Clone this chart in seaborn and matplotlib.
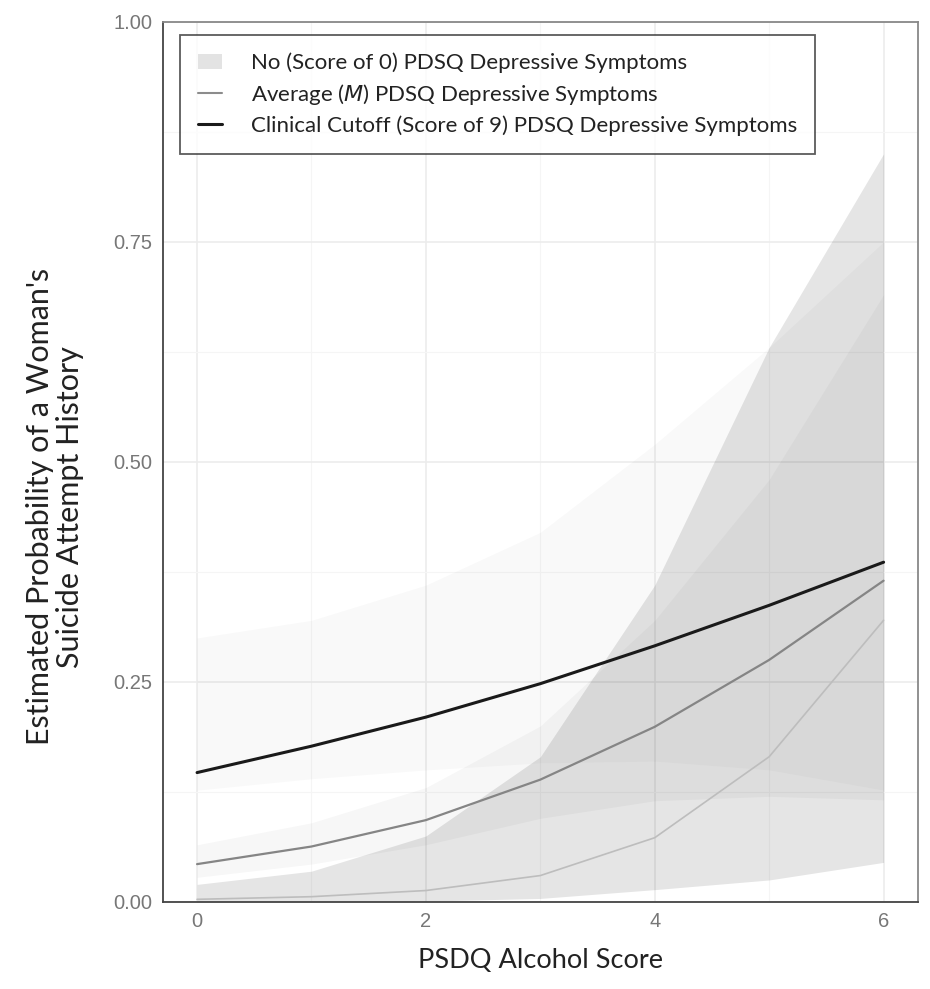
"""Predicted probability of suicide attempt history by PSDQ alcohol score."""

import matplotlib
matplotlib.use("Agg")
import matplotlib.pyplot as plt
import seaborn as sns
import pandas as pd
from matplotlib.lines import Line2D
from matplotlib.patches import Patch


# Data
alcohol_score = [0, 1, 2, 3, 4, 5, 6]

no_dep = [0.003, 0.006, 0.013, 0.030, 0.073, 0.165, 0.320]
no_dep_lo = [0.000, 0.000, 0.001, 0.004, 0.014, 0.025, 0.045]
no_dep_hi = [0.020, 0.035, 0.075, 0.165, 0.360, 0.630, 0.850]

avg_dep = [0.043, 0.063, 0.093, 0.139, 0.199, 0.275, 0.365]
avg_dep_lo = [0.028, 0.043, 0.065, 0.095, 0.115, 0.120, 0.116]
avg_dep_hi = [0.065, 0.090, 0.130, 0.200, 0.320, 0.480, 0.690]

clin_dep = [0.147, 0.177, 0.210, 0.248, 0.291, 0.337, 0.386]
clin_dep_lo = [0.127, 0.140, 0.150, 0.158, 0.160, 0.150, 0.127]
clin_dep_hi = [0.300, 0.320, 0.360, 0.420, 0.520, 0.630, 0.750]

group_labels = [
    "No (Score of 0) PDSQ Depressive Symptoms",
    "Average ($\\mathit{M}$) PDSQ Depressive Symptoms",
    "Clinical Cutoff (Score of 9) PDSQ Depressive Symptoms",
]

y_ticks = [0.0, 0.25, 0.5, 0.75, 1.0]
y_tick_labels = ["0.00", "0.25", "0.50", "0.75", "1.00"]
x_ticks = [0, 2, 4, 6]

df = pd.DataFrame({
    "score": alcohol_score * 3,
    "prob": no_dep + avg_dep + clin_dep,
    "group": [g for g in group_labels for _ in alcohol_score],
})

sns.set_style("white")
plt.rcParams["font.family"] = ["Liberation Sans", "DejaVu Sans"]
label_font = ["Lato", "DejaVu Sans"]

fig = plt.figure(figsize=(9.3, 9.89), dpi=100)
ax = fig.add_axes([0.175, 0.088, 0.812, 0.89])

# confidence ribbons (very faint, like ggplot alpha fills)
ax.fill_between(alcohol_score, clin_dep_lo, clin_dep_hi, color="black", alpha=0.025, lw=0, zorder=1)
ax.fill_between(alcohol_score, avg_dep_lo, avg_dep_hi, color="black", alpha=0.03, lw=0, zorder=1)
ax.fill_between(alcohol_score, no_dep_lo, no_dep_hi, color="black", alpha=0.1, lw=0, zorder=1)

palette = {group_labels[0]: "#bdbdbd", group_labels[1]: "#858585", group_labels[2]: "#1a1a1a"}
sizes = {group_labels[0]: 1.2, group_labels[1]: 1.6, group_labels[2]: 2.2}
sns.lineplot(data=df, x="score", y="prob", hue="group", size="group",
             palette=palette, sizes=sizes, legend=False, ax=ax, zorder=3)

ax.set_xlim(-0.3, 6.3)
ax.set_ylim(0, 1.0)
ax.set_xticks(x_ticks)
ax.set_xticks([1, 3, 5], minor=True)
ax.set_yticks(y_ticks)
ax.set_yticklabels(y_tick_labels)
ax.set_yticks([0.125, 0.375, 0.625, 0.875], minor=True)
ax.grid(True, which="major", color="#ececec", lw=1.2, zorder=0)
ax.grid(True, which="minor", color="#f5f5f5", lw=0.8, zorder=0)
ax.set_axisbelow(True)

ax.tick_params(axis="both", which="major", length=4, width=1, color="#555555",
               labelcolor="#777777", labelsize=14.5, direction="out")
ax.tick_params(axis="both", which="minor", length=0)
for side, spine in ax.spines.items():
    spine.set_color("#444444" if side in ("left", "bottom") else "#888888")
    spine.set_linewidth(1.3)

ax.set_xlabel("PSDQ Alcohol Score", fontsize=19.5, family=label_font,
              color="#222222", labelpad=12)
ax.set_ylabel("Estimated Probability of a Woman's\nSuicide Attempt History", fontsize=22,
              family=label_font, color="#222222", linespacing=1.1, ha="center", va="center")
ax.yaxis.set_label_coords(-0.143, 0.449)

handles = [
    Patch(facecolor="#e3e3e3", edgecolor="none"),
    Line2D([0], [0], color="#8c8c8c", lw=1.5),
    Line2D([0], [0], color="#1a1a1a", lw=2.2),
]
leg = ax.legend(handles, group_labels, loc="upper left", bbox_to_anchor=(0.0225, 0.985),
                borderaxespad=0, frameon=True, fancybox=False, edgecolor="#333333",
                prop={"family": label_font, "size": 16},
                handlelength=1.1, handletextpad=1.3, borderpad=0.8, labelspacing=0.38)
leg.get_frame().set_linewidth(1.3)
for t in leg.get_texts():
    t.set_color("#222222")

fig.savefig("out.png", dpi=100)
